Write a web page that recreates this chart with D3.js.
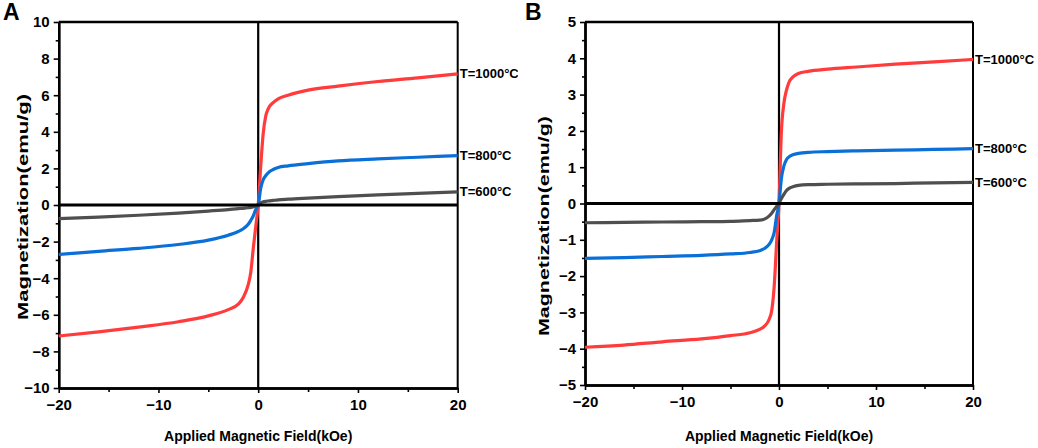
<!DOCTYPE html>
<html>
<head>
<meta charset="utf-8">
<script src="https://cdn.jsdelivr.net/npm/d3@7/dist/d3.min.js"></script>
<style>
  body { margin: 0; background: #fff; }
  svg text { font-family: Arial, "Liberation Sans", sans-serif; font-weight: bold; fill: #000; }
</style>
</head>
<body>
<svg id="chart" width="1038" height="448"></svg>
<script>
// applied field (kOe), shared by every curve
const fields = [-20, -16, -12, -8, -5, -3, -2, -1.5, -1, -0.75, -0.5, -0.25, 0,
                0.25, 0.5, 0.75, 1, 1.5, 2, 3, 5, 8, 12, 16, 20];

// panel A magnetization (emu/g)
const magA1000 = [-7.16, -6.93, -6.67, -6.38, -6.06, -5.72, -5.42, -5.05, -4.35, -3.7, -2.4, -1.2, 0,
                  2.1, 3.9, 4.85, 5.25, 5.6, 5.8, 6.0, 6.28, 6.5, 6.75, 6.95, 7.17];
const magA800 = [-2.70, -2.53, -2.37, -2.16, -1.92, -1.65, -1.45, -1.3, -1.05, -0.85, -0.6, -0.25, 0,
                 0.9, 1.38, 1.6, 1.76, 1.94, 2.05, 2.14, 2.26, 2.41, 2.52, 2.61, 2.70];
const magA600 = [-0.74, -0.66, -0.56, -0.44, -0.33, -0.25, -0.2, -0.18, -0.15, -0.13, -0.1, -0.06, 0,
                 0.12, 0.17, 0.2, 0.22, 0.25, 0.28, 0.32, 0.38, 0.46, 0.55, 0.63, 0.72];

// panel B magnetization (emu/g)
const magB1000 = [-3.96, -3.9, -3.81, -3.73, -3.64, -3.56, -3.47, -3.38, -3.18, -2.95, -2.3, -1.1, 0,
                  2.0, 2.75, 3.1, 3.32, 3.5, 3.58, 3.64, 3.7, 3.76, 3.84, 3.9, 3.97];
const magB800 = [-1.51, -1.49, -1.46, -1.43, -1.39, -1.35, -1.3, -1.24, -1.12, -1.0, -0.8, -0.35, 0,
                 0.7, 1.03, 1.2, 1.28, 1.35, 1.38, 1.41, 1.43, 1.45, 1.47, 1.49, 1.51];
const magB600 = [-0.53, -0.52, -0.51, -0.5, -0.49, -0.47, -0.46, -0.43, -0.34, -0.27, -0.17, -0.08, 0,
                 0.14, 0.25, 0.35, 0.41, 0.47, 0.5, 0.52, 0.53, 0.54, 0.55, 0.57, 0.58];

const seriesNames = ["T=1000°C", "T=800°C", "T=600°C"];
const xTicks = [-20, -10, 0, 10, 20];
const yTicksA = [-10, -8, -6, -4, -2, 0, 2, 4, 6, 8, 10];
const yTicksB = [-5, -4, -3, -2, -1, 0, 1, 2, 3, 4, 5];

const colors = ["#ff3b3b", "#0b6fd8", "#4f4f4f"];
const svg = d3.select("#chart");
const fmt = d3.format("");

const drawPanel = function (p) {
    const g = svg.append("g");
    if (p.clipRight) {
        const id = "clip" + p.letter;
        svg.append("clipPath").attr("id", id)
            .append("rect").attr("x", 0).attr("y", 0).attr("width", p.clipRight).attr("height", 448);
        g.attr("clip-path", "url(#" + id + ")");
    }
    const x = d3.scaleLinear().domain([-20, 20]).range([p.left, p.right]);
    const y = d3.scaleLinear().domain([p.yTicks[0], p.yTicks[p.yTicks.length - 1]]).range([p.bottom, p.top]);
    const mid = function (arr) {
        return d3.pairs(arr).map(function (d) { return (d[0] + d[1]) / 2; });
    };

    // minor ticks
    g.append("g").attr("transform", "translate(" + p.left + ",0)")
        .call(d3.axisLeft(y).tickValues(mid(p.yTicks)).tickSize(3).tickSizeOuter(0).tickFormat(""));
    g.append("g").attr("transform", "translate(0," + p.bottom + ")")
        .call(d3.axisBottom(x).tickValues(mid(xTicks)).tickSize(4).tickSizeOuter(0).tickFormat(""));

    // major ticks + labels
    const yAxis = g.append("g").attr("transform", "translate(" + p.left + ",0)")
        .call(d3.axisLeft(y).tickValues(p.yTicks).tickSize(5).tickSizeOuter(0).tickPadding(4).tickFormat(fmt));
    const xAxis = g.append("g").attr("transform", "translate(0," + p.bottom + ")")
        .call(d3.axisBottom(x).tickValues(xTicks).tickSize(5).tickSizeOuter(0).tickPadding(6).tickFormat(fmt));
    g.selectAll(".tick line").attr("stroke", "#000").attr("stroke-width", 1.6);
    g.selectAll(".domain").attr("stroke", "#000").attr("stroke-width", 2.4);
    [yAxis, xAxis].forEach(function (a) {
        a.attr("font-family", null).attr("font-size", null);
        a.selectAll("text").style("font-size", "15px");
    });

    // frame top + right
    g.append("line").attr("x1", p.left).attr("x2", p.right).attr("y1", p.top).attr("y2", p.top)
        .attr("stroke", "#000").attr("stroke-width", 2.6);
    g.append("line").attr("x1", p.right).attr("x2", p.right).attr("y1", p.top).attr("y2", p.bottom)
        .attr("stroke", "#000").attr("stroke-width", 2);

    // zero lines
    g.append("line").attr("x1", x(0)).attr("x2", x(0)).attr("y1", p.top).attr("y2", p.bottom)
        .attr("stroke", "#000").attr("stroke-width", 2.2);

    const line = d3.line()
        .x(function (d) { return x(d[0]); })
        .y(function (d) { return y(d[1]); })
        .curve(d3.curveMonotoneX);
    p.series.forEach(function (vals, i) {
        g.append("path")
            .datum(d3.zip(fields, vals))
            .attr("fill", "none")
            .attr("stroke", colors[i])
            .attr("stroke-width", 3.2)
            .attr("stroke-linejoin", "round")
            .attr("d", line);
        g.append("text")
            .attr("x", p.right + 2)
            .attr("y", y(vals[vals.length - 1]) + 1)
            .attr("dominant-baseline", "middle")
            .style("font-size", "13px")
            .text(seriesNames[i]);
    });

    g.append("line").attr("x1", p.left).attr("x2", p.right).attr("y1", y(0)).attr("y2", y(0))
        .attr("stroke", "#000").attr("stroke-width", 2.8);

    // titles
    g.append("text")
        .attr("x", (p.left + p.right) / 2)
        .attr("y", 441)
        .attr("text-anchor", "middle")
        .style("font-size", "14px")
        .text("Applied Magnetic Field(kOe)");
    g.append("text")
        .attr("transform", "translate(" + p.yTitleX + "," + p.yTitleY + ") rotate(-90)")
        .attr("text-anchor", "middle")
        .attr("textLength", p.yTitleLen)
        .attr("lengthAdjust", "spacingAndGlyphs")
        .style("font-size", "15px")
        .text("Magnetization(emu/g)");
    svg.append("text")
        .attr("x", p.letterX)
        .attr("y", 20)
        .style("font-size", "23px")
        .text(p.letter);
};

drawPanel({
    letter: "A", letterX: 3, left: 58.7, right: 457.7, top: 22, bottom: 388,
    yTicks: yTicksA, series: [magA1000, magA800, magA600],
    yTitleX: 28, yTitleY: 207, yTitleLen: 226, clipRight: 518
});
drawPanel({
    letter: "B", letterX: 525, left: 585, right: 973, top: 22, bottom: 385,
    yTicks: yTicksB, series: [magB1000, magB800, magB600],
    yTitleX: 549, yTitleY: 226, yTitleLen: 220
});
</script>
</body>
</html>
